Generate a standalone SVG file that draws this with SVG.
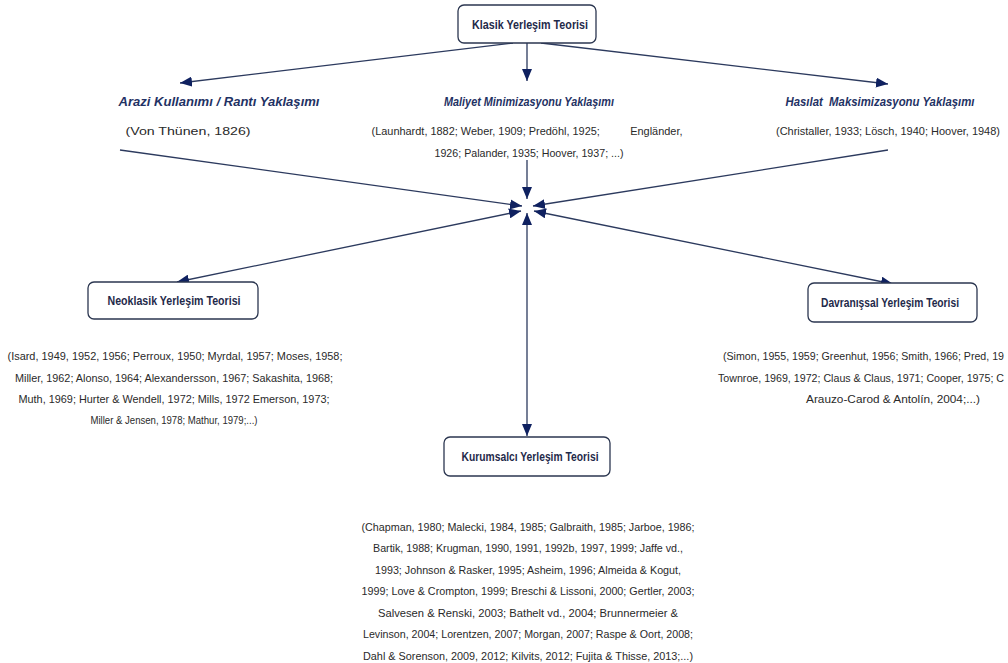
<svg xmlns="http://www.w3.org/2000/svg" width="1008" height="663" viewBox="0 0 1008 663">
<style>
.box{fill:#fff;stroke:#2b3650;stroke-width:1.3}
.bt{font-family:"Liberation Sans",Arial,sans-serif;font-size:13px;font-weight:bold;fill:#1f2a4a;text-anchor:middle}
.ap{font-family:"Liberation Sans",Arial,sans-serif;font-size:13px;font-weight:bold;font-style:italic;fill:#1f3264;text-anchor:middle}
.ct{font-family:"Liberation Sans",Arial,sans-serif;font-size:11.5px;fill:#2a2a2a;text-anchor:middle}
.cs{font-size:10.5px}
.cl{fill:none;stroke:#2c3a5e;stroke-width:1.3}
</style>
<defs>
<marker id="ah" viewBox="0 0 12 10" refX="12" refY="5" markerWidth="12" markerHeight="10" markerUnits="userSpaceOnUse" orient="auto-start-reverse">
<path d="M0,0 L12,5 L0,10 Z" fill="#0f2160"/>
</marker>
</defs>
<rect width="1008" height="663" fill="#fff"/>
<g id="connectors">
<line class="cl" x1="513" y1="43" x2="180" y2="83" marker-end="url(#ah)"/>
<line class="cl" x1="527" y1="43" x2="527" y2="81" marker-end="url(#ah)"/>
<line class="cl" x1="541" y1="43" x2="888" y2="84" marker-end="url(#ah)"/>
<line class="cl" x1="120" y1="150" x2="522" y2="206" marker-end="url(#ah)"/>
<line class="cl" x1="888" y1="150" x2="533" y2="206" marker-end="url(#ah)"/>
<line class="cl" x1="527" y1="160" x2="527" y2="199" marker-end="url(#ah)"/>
<line class="cl" x1="521" y1="211" x2="177" y2="282" marker-start="url(#ah)" marker-end="url(#ah)"/>
<line class="cl" x1="534" y1="211" x2="893" y2="284" marker-start="url(#ah)" marker-end="url(#ah)"/>
<line class="cl" x1="527" y1="213" x2="527" y2="436" marker-start="url(#ah)" marker-end="url(#ah)"/>
</g>
<g id="klasik">
<rect class="box" x="458" y="5" width="138" height="38" rx="6"/>
<text class="bt" x="530" y="29" textLength="116" lengthAdjust="spacingAndGlyphs">Klasik Yerleşim Teorisi</text>
</g>
<g id="arazi">
<text class="ap" x="219" y="106" textLength="201" lengthAdjust="spacingAndGlyphs">Arazi Kullanımı / Rantı Yaklaşımı</text>
<text class="ct" x="188" y="135" textLength="125" lengthAdjust="spacingAndGlyphs">(Von Thünen, 1826)</text>
</g>
<g id="maliyet">
<text class="ap" x="529" y="106" textLength="170" lengthAdjust="spacingAndGlyphs">Maliyet Minimizasyonu Yaklaşımı</text>
<text class="ct" x="527" y="135" textLength="311" lengthAdjust="spacingAndGlyphs" xml:space="preserve">(Launhardt, 1882; Weber, 1909; Predöhl, 1925;          Engländer,</text>
<text class="ct" x="529" y="157" textLength="189" lengthAdjust="spacingAndGlyphs">1926; Palander, 1935; Hoover, 1937; ...)</text>
</g>
<g id="hasilat">
<text class="ap" x="880" y="106" textLength="189" lengthAdjust="spacingAndGlyphs" xml:space="preserve">Hasılat  Maksimizasyonu Yaklaşımı</text>
<text class="ct cs" x="1000" y="135" style="text-anchor:end" textLength="224" lengthAdjust="spacingAndGlyphs">(Christaller, 1933; Lösch, 1940; Hoover, 1948)</text>
</g>
<g id="neoklasik">
<rect class="box" x="88" y="282" width="170" height="37" rx="6"/>
<text class="bt" x="174" y="305" textLength="133" lengthAdjust="spacingAndGlyphs">Neoklasik Yerleşim Teorisi</text>
<text class="ct" x="175" y="360" textLength="335" lengthAdjust="spacingAndGlyphs">(Isard, 1949, 1952, 1956; Perroux, 1950; Myrdal, 1957; Moses, 1958;</text>
<text class="ct" x="174" y="382" textLength="318" lengthAdjust="spacingAndGlyphs">Miller, 1962; Alonso, 1964; Alexandersson, 1967; Sakashita, 1968;</text>
<text class="ct" x="174" y="403" textLength="311" lengthAdjust="spacingAndGlyphs">Muth, 1969; Hurter &amp; Wendell, 1972; Mills, 1972 Emerson, 1973;</text>
<text class="ct" x="174" y="424" textLength="167" lengthAdjust="spacingAndGlyphs">Miller &amp; Jensen, 1978; Mathur, 1979;...)</text>
</g>
<g id="davranissal">
<rect class="box" x="808" y="283" width="169" height="39" rx="6"/>
<text class="bt" x="890" y="307" textLength="138" lengthAdjust="spacingAndGlyphs">Davranışsal Yerleşim Teorisi</text>
<text class="ct cs" x="723" y="360" style="text-anchor:start" textLength="281" lengthAdjust="spacingAndGlyphs">(Simon, 1955, 1959; Greenhut, 1956; Smith, 1966; Pred, 19</text>
<text class="ct cs" x="718" y="382" style="text-anchor:start" textLength="286" lengthAdjust="spacingAndGlyphs">Townroe, 1969, 1972; Claus &amp; Claus, 1971; Cooper, 1975; C</text>
<text class="ct cs" x="893" y="403" textLength="174" lengthAdjust="spacingAndGlyphs">Arauzo-Carod &amp; Antolín, 2004;...)</text>
</g>
<g id="kurumsalci">
<rect class="box" x="444" y="437" width="166" height="39" rx="6"/>
<text class="bt" x="530" y="461" textLength="137" lengthAdjust="spacingAndGlyphs">Kurumsalcı Yerleşim Teorisi</text>
<text class="ct" x="528" y="531" textLength="333" lengthAdjust="spacingAndGlyphs">(Chapman, 1980; Malecki, 1984, 1985; Galbraith, 1985; Jarboe, 1986;</text>
<text class="ct" x="528" y="552" textLength="310" lengthAdjust="spacingAndGlyphs">Bartik, 1988; Krugman, 1990, 1991, 1992b, 1997, 1999; Jaffe vd.,</text>
<text class="ct" x="528" y="574" textLength="306" lengthAdjust="spacingAndGlyphs">1993; Johnson &amp; Rasker, 1995; Asheim, 1996; Almeida &amp; Kogut,</text>
<text class="ct" x="528" y="595" textLength="333" lengthAdjust="spacingAndGlyphs">1999; Love &amp; Crompton, 1999; Breschi &amp; Lissoni, 2000; Gertler, 2003;</text>
<text class="ct" x="528" y="617" textLength="300" lengthAdjust="spacingAndGlyphs">Salvesen &amp; Renski, 2003; Bathelt vd., 2004; Brunnermeier &amp;</text>
<text class="ct" x="528" y="638" textLength="330" lengthAdjust="spacingAndGlyphs">Levinson, 2004; Lorentzen, 2007; Morgan, 2007; Raspe &amp; Oort, 2008;</text>
<text class="ct" x="528" y="660" textLength="330" lengthAdjust="spacingAndGlyphs">Dahl &amp; Sorenson, 2009, 2012; Kilvits, 2012; Fujita &amp; Thisse, 2013;...)</text>
</g>
</svg>
